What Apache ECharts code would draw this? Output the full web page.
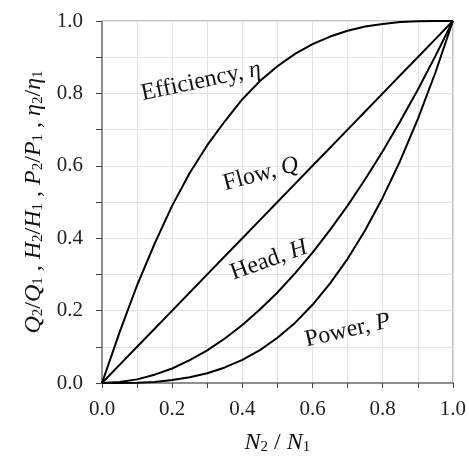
<!DOCTYPE html>
<html><head><meta charset="utf-8">
<script src="https://cdn.jsdelivr.net/npm/echarts@6/dist/echarts.min.js"></script>
<style>html,body{margin:0;padding:0;background:#fff}#c{width:469px;height:460px}</style>
</head><body><div id="c"></div>
<script>
const speedRatio = [0,0.05,0.1,0.15,0.2,0.25,0.3,0.35,0.4,0.45,0.5,0.55,0.6,0.65,0.7,0.75,0.8,0.85,0.9,0.95,1.0];
const efficiency = [0,0.14,0.27,0.385,0.49,0.58,0.657,0.723,0.784,0.834,0.875,0.909,0.936,0.957,0.973,0.985,0.992,0.997,0.999,1.0,1.0];
const flow = [0,0.05,0.1,0.15,0.2,0.25,0.3,0.35,0.4,0.45,0.5,0.55,0.6,0.65,0.7,0.75,0.8,0.85,0.9,0.95,1.0];
const head = [0,0.003,0.01,0.023,0.04,0.063,0.09,0.123,0.16,0.203,0.25,0.303,0.36,0.423,0.49,0.563,0.64,0.723,0.81,0.903,1.0];
const power = [0,0.0001,0.001,0.003,0.008,0.016,0.027,0.043,0.064,0.091,0.125,0.166,0.216,0.275,0.343,0.422,0.512,0.614,0.729,0.857,1.0];
const tickLabels = ['0.0','0.2','0.4','0.6','0.8','1.0'];
const curveLabels = [
  {name:'Efficiency', sym:'η', at:[0.282,0.833], rot:12},
  {name:'Flow', sym:'Q', at:[0.453,0.577], rot:15},
  {name:'Head', sym:'H', at:[0.476,0.339], rot:20},
  {name:'Power', sym:'P', at:[0.70,0.145], rot:13}
];

const FONT = '"Times New Roman", "Liberation Serif", serif';
const pairs = a => speedRatio.map((x,i)=>[x,a[i]]);
const fmt = v => { const s=v.toFixed(1); return tickLabels.includes(s) && Math.abs(v*5-Math.round(v*5))<1e-6 ? s : ''; };
const axColor = '#777';
const base = {type:'value', min:0, max:1, interval:0.1};

const chart = echarts.init(document.getElementById('c'));
const lineSeries = (name,data)=>({type:'line', name, data:pairs(data), showSymbol:false, symbol:'none',
  lineStyle:{color:'#000', width:2}, smooth:false, z:5, animation:false});
const richStyle = {
  i:{fontFamily:FONT, fontStyle:'italic', fontSize:24, color:'#111', verticalAlign:'bottom', lineHeight:26},
  s:{fontFamily:FONT, fontSize:15, color:'#111', verticalAlign:'bottom', lineHeight:20},
  n:{fontFamily:FONT, fontSize:24, color:'#111', verticalAlign:'bottom', lineHeight:26}};

const labelSeries = curveLabels.map(l => ({
  type:'scatter', symbolSize:0, z:6, silent:true, itemStyle:{opacity:1},
  label:{show:true, position:'inside', rotate:l.rot, fontFamily:FONT, fontSize:24, color:'#111', opacity:1,
    formatter:'{n|'+l.name+', }{i|'+l.sym+'}',
    rich:{n:{fontFamily:FONT, fontSize:24, color:'#111'},
          i:{fontFamily:FONT, fontStyle:'italic', fontSize:24, color:'#111'}}},
  data:[l.at]
}));

chart.setOption({
  animation:false,
  textStyle:{fontFamily:FONT},
  grid:{left:102, right:14, top:21, bottom:73, show:true, borderColor:'#999', borderWidth:1, containLabel:false},
  xAxis:[
    Object.assign({}, base, {
      axisLine:{show:true, onZero:false, lineStyle:{color:axColor, width:1.5}},
      axisTick:{show:true, length:5, lineStyle:{color:'#444'}},
      axisLabel:{formatter:fmt, fontFamily:FONT, fontSize:21, color:'#222', margin:16},
      splitLine:{show:true, lineStyle:{color:'#e2e2e2'}},
      name:'{i|N}{s|2}{n| / }{i|N}{s|1}', nameLocation:'middle', nameGap:46,
      nameTextStyle:{fontFamily:FONT, rich:richStyle}
    }),
    Object.assign({}, base, {
      axisLine:{show:false}, axisTick:{show:true, inside:true, length:5, lineStyle:{color:'#444'}},
      axisLabel:{show:false}, splitLine:{show:false}
    })
  ],
  yAxis:[
    Object.assign({}, base, {
      axisLine:{show:true, onZero:false, lineStyle:{color:axColor, width:1.5}},
      axisTick:{show:true, length:6, lineStyle:{color:'#444'}},
      axisLabel:{formatter:fmt, fontFamily:FONT, fontSize:21, color:'#222', margin:19},
      splitLine:{show:true, lineStyle:{color:'#e2e2e2'}},
      name:'{i|Q}{s|2}{n|/}{i|Q}{s|1}{n| , }{i|H}{s|2}{n|/}{i|H}{s|1}{n| , }{i|P}{s|2}{n|/}{i|P}{s|1}{n| , }{i|η}{s|2}{n|/}{i|η}{s|1}',
      nameLocation:'middle', nameGap:56, nameRotate:90,
      nameTextStyle:{fontFamily:FONT, rich:richStyle}
    }),
    Object.assign({}, base, {
      axisLine:{show:false}, axisTick:{show:true, inside:true, length:5, lineStyle:{color:'#444'}},
      axisLabel:{show:false}, splitLine:{show:false}
    })
  ],
  series:[
    lineSeries('Efficiency', efficiency),
    lineSeries('Flow', flow),
    lineSeries('Head', head),
    lineSeries('Power', power)
  ].concat(labelSeries)
});
</script></body></html>
